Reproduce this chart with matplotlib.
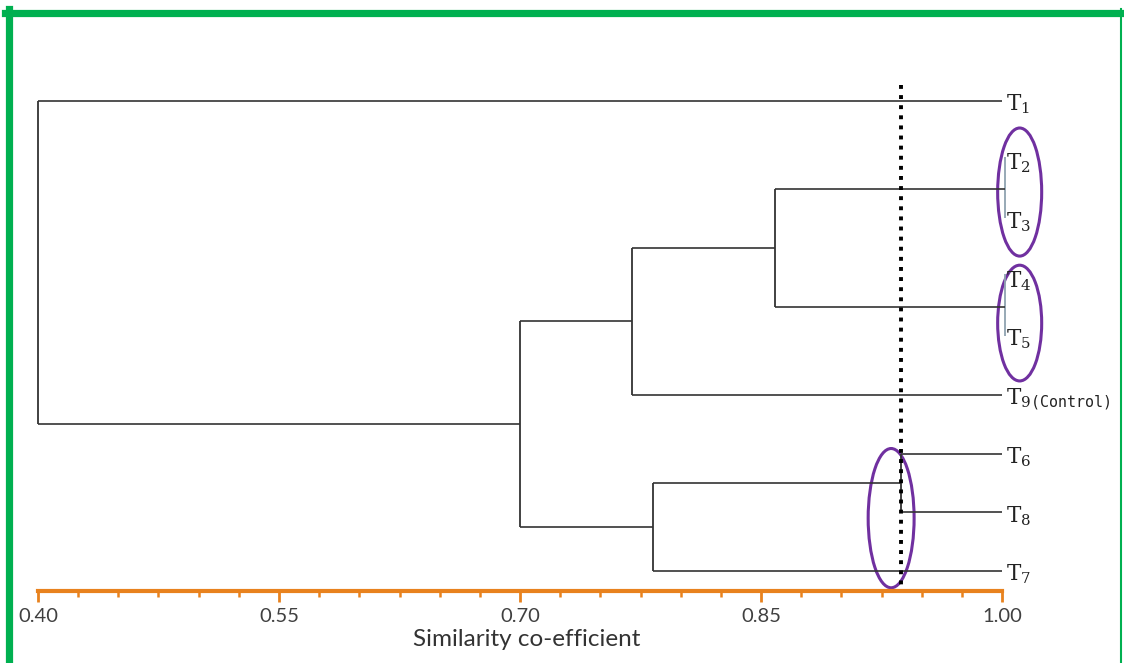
import matplotlib
matplotlib.use("Agg")
import matplotlib.pyplot as plt
from matplotlib.patches import Ellipse
from matplotlib.lines import Line2D
from matplotlib.ticker import MultipleLocator
import numpy as np

# leaves top-to-bottom and their subscript text
leaves = ["1", "2", "3", "4", "5", "9(Control)", "6", "8", "7"]
# merges: (left id, right id, similarity); new cluster ids start at len(leaves)
merge_pairs = [(1, 2), (3, 4), (6, 7), (9, 10), (12, 5), (11, 8), (13, 14), (0, 15)]
merge_sim = [1.00, 1.00, 0.937, 0.859, 0.770, 0.783, 0.70, 0.40]
cut_value = 0.937
major_ticks = [0.40, 0.55, 0.70, 0.85, 1.00]
tick_labels = ["0.40", "0.55", "0.70", "0.85", "1.00"]

LINE = "#333333"
GREY = "#8fa2b0"
ORANGE = "#e8821e"
PURPLE = "#7030a0"
GREEN = "#00b050"

plt.rcParams["mathtext.fontset"] = "custom"
plt.rcParams["mathtext.rm"] = "DejaVu Serif"
plt.rcParams["mathtext.tt"] = "DejaVu Sans Mono"

W, H = 1124, 663
fig = plt.figure(figsize=(W / 100, H / 100), dpi=100)
fig.patch.set_facecolor("white")

# axes: 0.40 at x=38px, 1.00 at x=1002px; axis line at y=591px
ax = fig.add_axes([38 / W, 1 - 591 / H, 964 / W, (591 - 80) / H])
ax.set_xlim(0.40, 1.00)
ax.set_ylim(8.34, -0.357)

# node positions
ypos = {i: float(i) for i in range(len(leaves))}
xpos = {i: 1.0 for i in range(len(leaves))}
for k, ((a, b), s) in enumerate(zip(merge_pairs, merge_sim)):
    nid = len(leaves) + k
    sx = s + 0.002 if s >= 1.0 else s
    col = GREY if s >= 1.0 else LINE
    ax.plot([sx, sx], [ypos[a] - (0.05 if s >= 1.0 else 0), ypos[b]],
            color=col, lw=1.3, solid_capstyle="butt", clip_on=False)
    for c in (a, b):
        if xpos[c] > sx:
            ax.plot([s, xpos[c]], [ypos[c], ypos[c]], color=LINE, lw=1.2,
                    solid_capstyle="butt", clip_on=False)
    ypos[nid] = (ypos[a] + ypos[b]) / 2
    xpos[nid] = sx

# leaf labels
for i, lab in enumerate(leaves):
    if "(" in lab:
        num, rest = lab.split("(", 1)
        sub = r"\mathrm{%s}\mathtt{(%s}" % (num, rest)
    else:
        sub = r"\mathrm{%s}" % lab
    ax.annotate(r"$\mathrm{T}_{%s}$" % sub, xy=(1.0, i), xytext=(3, -7),
                textcoords="offset points", ha="left", va="baseline",
                fontsize=15.5, color="#222222", annotation_clip=False)

# cut line
ax.plot([cut_value, cut_value], [-0.27, 8.33], color="black", lw=2.8,
        linestyle=(0, (1, 1.6)), clip_on=False)

# ellipses
for (cx, cy, w, h) in [(1.011, 1.55, 0.0274, 2.18), (1.011, 3.78, 0.0274, 1.97),
                       (0.931, 7.10, 0.0286, 2.37)]:
    ax.add_patch(Ellipse((cx, cy), w, h, fill=False, edgecolor=PURPLE, lw=2.2,
                         clip_on=False))

for sp in ["top", "right", "left"]:
    ax.spines[sp].set_visible(False)
ax.spines["bottom"].set_color(ORANGE)
ax.spines["bottom"].set_linewidth(3)
ax.set_yticks([])
ax.set_xticks(major_ticks)
ax.set_xticklabels(tick_labels, fontfamily="Lato", fontsize=14.5, color="#404040")
ax.xaxis.set_minor_locator(MultipleLocator(0.025))
ax.tick_params(axis="x", which="major", direction="out", length=8, width=2,
               color=ORANGE, pad=4)
ax.tick_params(axis="x", which="minor", direction="out", length=4, width=1.8,
               color=ORANGE)
ax.set_facecolor("none")
fig.text(527 / W, 1 - 640 / H, "Similarity co-efficient", ha="center", va="center",
         fontfamily="Lato", fontsize=17.5, color="#333333")

# green frame
fig.add_artist(Line2D([5 / W, 1], [1 - 12.5 / H] * 2, color=GREEN, lw=5.2,
                      transform=fig.transFigure))
fig.add_artist(Line2D([8.5 / W] * 2, [0, 1 - 9 / H], color=GREEN, lw=5.2,
                      transform=fig.transFigure))
fig.add_artist(Line2D([1121 / W] * 2, [0, 1 - 9 / H], color=GREEN, lw=1.5,
                      transform=fig.transFigure))

fig.savefig("out.png", dpi=100)
